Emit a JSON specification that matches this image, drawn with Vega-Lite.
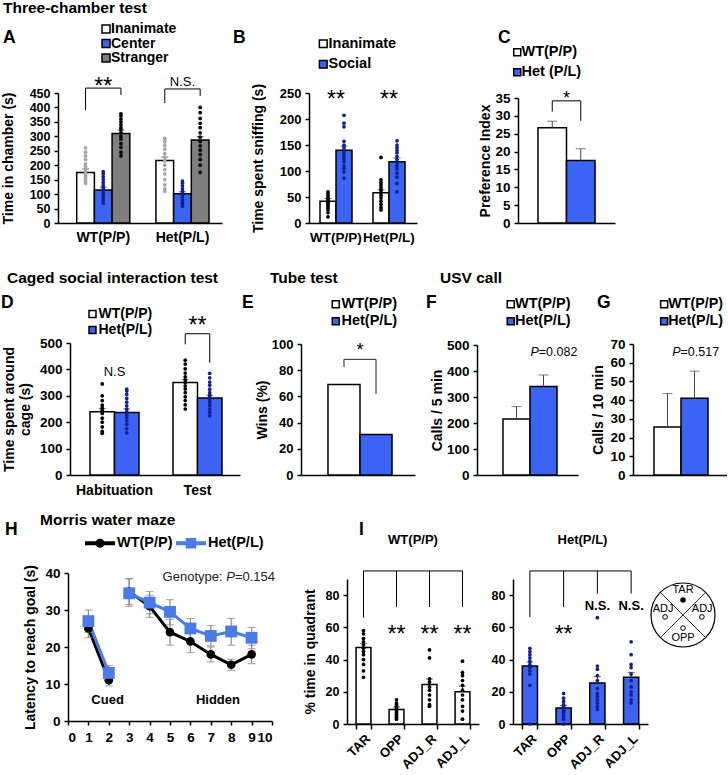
{
"$schema":"https://vega.github.io/schema/vega-lite/v6.json",
"background":"white",
"padding":{"left":1,"top":1,"right":0,"bottom":0},
"spacing":0,
"resolve":{"scale":{"x":"independent","y":"independent","xOffset":"independent","fill":"independent","color":"independent"},"axis":{"x":"independent","y":"independent"},"legend":{"fill":"independent","color":"independent"}},
"datasets":{
"aBar":[{"g":"WT(P/P)","c":"Inanimate","y":175,"hi":187},{"g":"WT(P/P)","c":"Center","y":114,"hi":124},{"g":"WT(P/P)","c":"Stranger","y":310,"hi":322},{"g":"Het(P/L)","c":"Inanimate","y":216,"hi":228},{"g":"Het(P/L)","c":"Center","y":101,"hi":108},{"g":"Het(P/L)","c":"Stranger","y":287,"hi":299}],
"aDot":[
{"g":"WT(P/P)","c":"Inanimate","y":260},{"g":"WT(P/P)","c":"Inanimate","y":245},{"g":"WT(P/P)","c":"Inanimate","y":232},{"g":"WT(P/P)","c":"Inanimate","y":220},{"g":"WT(P/P)","c":"Inanimate","y":205},{"g":"WT(P/P)","c":"Inanimate","y":195},{"g":"WT(P/P)","c":"Inanimate","y":185},{"g":"WT(P/P)","c":"Inanimate","y":178},{"g":"WT(P/P)","c":"Inanimate","y":170},{"g":"WT(P/P)","c":"Inanimate","y":165},{"g":"WT(P/P)","c":"Inanimate","y":158},{"g":"WT(P/P)","c":"Inanimate","y":150},{"g":"WT(P/P)","c":"Inanimate","y":143},{"g":"WT(P/P)","c":"Inanimate","y":137},
{"g":"WT(P/P)","c":"Center","y":178},{"g":"WT(P/P)","c":"Center","y":170},{"g":"WT(P/P)","c":"Center","y":160},{"g":"WT(P/P)","c":"Center","y":150},{"g":"WT(P/P)","c":"Center","y":140},{"g":"WT(P/P)","c":"Center","y":130},{"g":"WT(P/P)","c":"Center","y":122},{"g":"WT(P/P)","c":"Center","y":113},{"g":"WT(P/P)","c":"Center","y":105},{"g":"WT(P/P)","c":"Center","y":97},{"g":"WT(P/P)","c":"Center","y":88},{"g":"WT(P/P)","c":"Center","y":78},{"g":"WT(P/P)","c":"Center","y":68},
{"g":"WT(P/P)","c":"Stranger","y":378},{"g":"WT(P/P)","c":"Stranger","y":370},{"g":"WT(P/P)","c":"Stranger","y":360},{"g":"WT(P/P)","c":"Stranger","y":350},{"g":"WT(P/P)","c":"Stranger","y":340},{"g":"WT(P/P)","c":"Stranger","y":330},{"g":"WT(P/P)","c":"Stranger","y":322},{"g":"WT(P/P)","c":"Stranger","y":312},{"g":"WT(P/P)","c":"Stranger","y":300},{"g":"WT(P/P)","c":"Stranger","y":290},{"g":"WT(P/P)","c":"Stranger","y":275},{"g":"WT(P/P)","c":"Stranger","y":262},{"g":"WT(P/P)","c":"Stranger","y":245},{"g":"WT(P/P)","c":"Stranger","y":232},
{"g":"Het(P/L)","c":"Inanimate","y":293},{"g":"Het(P/L)","c":"Inanimate","y":287},{"g":"Het(P/L)","c":"Inanimate","y":280},{"g":"Het(P/L)","c":"Inanimate","y":268},{"g":"Het(P/L)","c":"Inanimate","y":255},{"g":"Het(P/L)","c":"Inanimate","y":240},{"g":"Het(P/L)","c":"Inanimate","y":228},{"g":"Het(P/L)","c":"Inanimate","y":215},{"g":"Het(P/L)","c":"Inanimate","y":200},{"g":"Het(P/L)","c":"Inanimate","y":185},{"g":"Het(P/L)","c":"Inanimate","y":170},{"g":"Het(P/L)","c":"Inanimate","y":150},{"g":"Het(P/L)","c":"Inanimate","y":132},{"g":"Het(P/L)","c":"Inanimate","y":118},{"g":"Het(P/L)","c":"Inanimate","y":110},
{"g":"Het(P/L)","c":"Center","y":145},{"g":"Het(P/L)","c":"Center","y":138},{"g":"Het(P/L)","c":"Center","y":128},{"g":"Het(P/L)","c":"Center","y":118},{"g":"Het(P/L)","c":"Center","y":110},{"g":"Het(P/L)","c":"Center","y":102},{"g":"Het(P/L)","c":"Center","y":95},{"g":"Het(P/L)","c":"Center","y":88},{"g":"Het(P/L)","c":"Center","y":80},{"g":"Het(P/L)","c":"Center","y":72},{"g":"Het(P/L)","c":"Center","y":65},{"g":"Het(P/L)","c":"Center","y":58},
{"g":"Het(P/L)","c":"Stranger","y":400},{"g":"Het(P/L)","c":"Stranger","y":382},{"g":"Het(P/L)","c":"Stranger","y":362},{"g":"Het(P/L)","c":"Stranger","y":345},{"g":"Het(P/L)","c":"Stranger","y":330},{"g":"Het(P/L)","c":"Stranger","y":312},{"g":"Het(P/L)","c":"Stranger","y":297},{"g":"Het(P/L)","c":"Stranger","y":282},{"g":"Het(P/L)","c":"Stranger","y":267},{"g":"Het(P/L)","c":"Stranger","y":252},{"g":"Het(P/L)","c":"Stranger","y":237},{"g":"Het(P/L)","c":"Stranger","y":220},{"g":"Het(P/L)","c":"Stranger","y":200},{"g":"Het(P/L)","c":"Stranger","y":175}],
"aBr":[{"g":"WT(P/P)","c":"Inanimate","y":391,"o":1},{"g":"WT(P/P)","c":"Inanimate","y":467,"o":2},{"g":"WT(P/P)","c":"Stranger","y":467,"o":3},{"g":"WT(P/P)","c":"Stranger","y":443,"o":4},{"g":"Het(P/L)","c":"Inanimate","y":415,"o":1},{"g":"Het(P/L)","c":"Inanimate","y":464,"o":2},{"g":"Het(P/L)","c":"Stranger","y":464,"o":3},{"g":"Het(P/L)","c":"Stranger","y":440,"o":4}],
"aTxt":[{"g":"WT(P/P)","y":446,"t":"**","k":"s"},{"g":"Het(P/L)","y":474,"t":"N.S.","k":"n"}],
"bBar":[{"g":"WT(P/P)","c":"Inanimate","y":42,"hi":47},{"g":"WT(P/P)","c":"Social","y":140,"hi":148},{"g":"Het(P/L)","c":"Inanimate","y":58,"hi":64},{"g":"Het(P/L)","c":"Social","y":118,"hi":125}],
"bDot":[
{"g":"WT(P/P)","c":"Inanimate","y":60},{"g":"WT(P/P)","c":"Inanimate","y":56},{"g":"WT(P/P)","c":"Inanimate","y":52},{"g":"WT(P/P)","c":"Inanimate","y":48},{"g":"WT(P/P)","c":"Inanimate","y":45},{"g":"WT(P/P)","c":"Inanimate","y":42},{"g":"WT(P/P)","c":"Inanimate","y":40},{"g":"WT(P/P)","c":"Inanimate","y":37},{"g":"WT(P/P)","c":"Inanimate","y":34},{"g":"WT(P/P)","c":"Inanimate","y":30},{"g":"WT(P/P)","c":"Inanimate","y":26},{"g":"WT(P/P)","c":"Inanimate","y":20},{"g":"WT(P/P)","c":"Inanimate","y":12},
{"g":"WT(P/P)","c":"Social","y":207},{"g":"WT(P/P)","c":"Social","y":192},{"g":"WT(P/P)","c":"Social","y":185},{"g":"WT(P/P)","c":"Social","y":157},{"g":"WT(P/P)","c":"Social","y":150},{"g":"WT(P/P)","c":"Social","y":145},{"g":"WT(P/P)","c":"Social","y":140},{"g":"WT(P/P)","c":"Social","y":135},{"g":"WT(P/P)","c":"Social","y":130},{"g":"WT(P/P)","c":"Social","y":124},{"g":"WT(P/P)","c":"Social","y":118},{"g":"WT(P/P)","c":"Social","y":110},{"g":"WT(P/P)","c":"Social","y":105},{"g":"WT(P/P)","c":"Social","y":98},{"g":"WT(P/P)","c":"Social","y":86},
{"g":"Het(P/L)","c":"Inanimate","y":126},{"g":"Het(P/L)","c":"Inanimate","y":83},{"g":"Het(P/L)","c":"Inanimate","y":78},{"g":"Het(P/L)","c":"Inanimate","y":73},{"g":"Het(P/L)","c":"Inanimate","y":68},{"g":"Het(P/L)","c":"Inanimate","y":63},{"g":"Het(P/L)","c":"Inanimate","y":58},{"g":"Het(P/L)","c":"Inanimate","y":53},{"g":"Het(P/L)","c":"Inanimate","y":48},{"g":"Het(P/L)","c":"Inanimate","y":42},{"g":"Het(P/L)","c":"Inanimate","y":36},{"g":"Het(P/L)","c":"Inanimate","y":30},{"g":"Het(P/L)","c":"Inanimate","y":25},
{"g":"Het(P/L)","c":"Social","y":158},{"g":"Het(P/L)","c":"Social","y":150},{"g":"Het(P/L)","c":"Social","y":145},{"g":"Het(P/L)","c":"Social","y":140},{"g":"Het(P/L)","c":"Social","y":135},{"g":"Het(P/L)","c":"Social","y":128},{"g":"Het(P/L)","c":"Social","y":122},{"g":"Het(P/L)","c":"Social","y":116},{"g":"Het(P/L)","c":"Social","y":110},{"g":"Het(P/L)","c":"Social","y":104},{"g":"Het(P/L)","c":"Social","y":96},{"g":"Het(P/L)","c":"Social","y":88},{"g":"Het(P/L)","c":"Social","y":76},{"g":"Het(P/L)","c":"Social","y":60}],
"bTxt":[{"g":"WT(P/P)","y":223,"t":"**"},{"g":"Het(P/L)","y":223,"t":"**"}],
"cBar":[{"p":"c","g":"WT(P/P)","y":26.7,"hi":28.5},{"p":"c","g":"Het (P/L)","y":17.5,"hi":20.8}],
"cBr":[{"p":"c","g":"WT(P/P)","y":31.2,"o":1},{"p":"c","g":"WT(P/P)","y":34.2,"o":2},{"p":"c","g":"Het (P/L)","y":34.2,"o":3},{"p":"c","g":"Het (P/L)","y":28.6,"o":4}],
"cTxt":[{"p":"c","y":33.4,"t":"*"}],
"dBar":[{"g":"Habituation","c":"WT(P/P)","y":240,"hi":252},{"g":"Habituation","c":"Het(P/L)","y":237,"hi":250},{"g":"Test","c":"WT(P/P)","y":350,"hi":362},{"g":"Test","c":"Het(P/L)","y":292,"hi":302}],
"dDot":[
{"g":"Habituation","c":"WT(P/P)","y":345},{"g":"Habituation","c":"WT(P/P)","y":300},{"g":"Habituation","c":"WT(P/P)","y":282},{"g":"Habituation","c":"WT(P/P)","y":265},{"g":"Habituation","c":"WT(P/P)","y":255},{"g":"Habituation","c":"WT(P/P)","y":245},{"g":"Habituation","c":"WT(P/P)","y":233},{"g":"Habituation","c":"WT(P/P)","y":215},{"g":"Habituation","c":"WT(P/P)","y":200},{"g":"Habituation","c":"WT(P/P)","y":182},{"g":"Habituation","c":"WT(P/P)","y":165},{"g":"Habituation","c":"WT(P/P)","y":158},
{"g":"Habituation","c":"Het(P/L)","y":325},{"g":"Habituation","c":"Het(P/L)","y":318},{"g":"Habituation","c":"Het(P/L)","y":305},{"g":"Habituation","c":"Het(P/L)","y":290},{"g":"Habituation","c":"Het(P/L)","y":276},{"g":"Habituation","c":"Het(P/L)","y":262},{"g":"Habituation","c":"Het(P/L)","y":250},{"g":"Habituation","c":"Het(P/L)","y":240},{"g":"Habituation","c":"Het(P/L)","y":230},{"g":"Habituation","c":"Het(P/L)","y":218},{"g":"Habituation","c":"Het(P/L)","y":205},{"g":"Habituation","c":"Het(P/L)","y":192},{"g":"Habituation","c":"Het(P/L)","y":176},{"g":"Habituation","c":"Het(P/L)","y":160},
{"g":"Test","c":"WT(P/P)","y":435},{"g":"Test","c":"WT(P/P)","y":420},{"g":"Test","c":"WT(P/P)","y":402},{"g":"Test","c":"WT(P/P)","y":386},{"g":"Test","c":"WT(P/P)","y":372},{"g":"Test","c":"WT(P/P)","y":360},{"g":"Test","c":"WT(P/P)","y":350},{"g":"Test","c":"WT(P/P)","y":338},{"g":"Test","c":"WT(P/P)","y":326},{"g":"Test","c":"WT(P/P)","y":312},{"g":"Test","c":"WT(P/P)","y":296},{"g":"Test","c":"WT(P/P)","y":282},{"g":"Test","c":"WT(P/P)","y":266},{"g":"Test","c":"WT(P/P)","y":250},
{"g":"Test","c":"Het(P/L)","y":385},{"g":"Test","c":"Het(P/L)","y":368},{"g":"Test","c":"Het(P/L)","y":352},{"g":"Test","c":"Het(P/L)","y":340},{"g":"Test","c":"Het(P/L)","y":325},{"g":"Test","c":"Het(P/L)","y":312},{"g":"Test","c":"Het(P/L)","y":302},{"g":"Test","c":"Het(P/L)","y":294},{"g":"Test","c":"Het(P/L)","y":286},{"g":"Test","c":"Het(P/L)","y":276},{"g":"Test","c":"Het(P/L)","y":263},{"g":"Test","c":"Het(P/L)","y":250},{"g":"Test","c":"Het(P/L)","y":238},{"g":"Test","c":"Het(P/L)","y":225}],
"dBr":[{"g":"Test","c":"WT(P/P)","y":495,"o":1},{"g":"Test","c":"WT(P/P)","y":535,"o":2},{"g":"Test","c":"Het(P/L)","y":535,"o":3},{"g":"Test","c":"Het(P/L)","y":425,"o":4}],
"dTxt":[{"g":"Test","y":538,"t":"**","k":"s"},{"g":"Habituation","y":376,"t":"N.S","k":"n"}],
"eBar":[{"p":"e","g":"WT(P/P)","y":69},{"p":"e","g":"Het(P/L)","y":31}],
"eBr":[{"p":"e","g":"WT(P/P)","y":82.4,"o":1},{"p":"e","g":"WT(P/P)","y":88.3,"o":2},{"p":"e","g":"Het(P/L)","y":88.3,"o":3},{"p":"e","g":"Het(P/L)","y":61.8,"o":4}],
"eTxt":[{"p":"e","y":90.6,"t":"*"}],
"fBar":[{"p":"f","g":"WT(P/P)","y":215,"hi":263},{"p":"f","g":"Het(P/L)","y":340,"hi":385}],
"fTxt":[{"p":"f","g":"Het(P/L)","y":457,"t":"P","k":"a"},{"p":"f","g":"Het(P/L)","y":457,"t":"=0.082","k":"b"}],
"gBar":[{"p":"g","g":"WT(P/P)","y":25.7,"hi":43.5},{"p":"g","g":"Het(P/L)","y":41,"hi":55.5}],
"gTxt":[{"p":"g","g":"Het(P/L)","y":63.6,"t":"P","k":"a"},{"p":"g","g":"Het(P/L)","y":63.6,"t":"=0.517","k":"b"}],
"hD":[
{"geno":"WT(P/P)","ph":"cued","d":1,"y":25,"lo":22.5,"hi":27.5},{"geno":"WT(P/P)","ph":"cued","d":2,"y":11,"lo":9.5,"hi":12.5},
{"geno":"WT(P/P)","ph":"hidden","d":3,"y":35,"lo":31.5,"hi":38.5},{"geno":"WT(P/P)","ph":"hidden","d":4,"y":31,"lo":28,"hi":34},{"geno":"WT(P/P)","ph":"hidden","d":5,"y":24,"lo":20.5,"hi":27.5},{"geno":"WT(P/P)","ph":"hidden","d":6,"y":21.5,"lo":18.5,"hi":24.5},{"geno":"WT(P/P)","ph":"hidden","d":7,"y":18,"lo":16,"hi":20},{"geno":"WT(P/P)","ph":"hidden","d":8,"y":15.2,"lo":13.7,"hi":16.7},{"geno":"WT(P/P)","ph":"hidden","d":9,"y":18,"lo":15.5,"hi":20.5},
{"geno":"Het(P/L)","ph":"cued","d":1,"y":27,"lo":24,"hi":30},{"geno":"Het(P/L)","ph":"cued","d":2,"y":13,"lo":11,"hi":15},
{"geno":"Het(P/L)","ph":"hidden","d":3,"y":34.5,"lo":31,"hi":38.4},{"geno":"Het(P/L)","ph":"hidden","d":4,"y":32,"lo":29,"hi":35},{"geno":"Het(P/L)","ph":"hidden","d":5,"y":29.5,"lo":26,"hi":32.8},{"geno":"Het(P/L)","ph":"hidden","d":6,"y":25,"lo":22,"hi":27.7},{"geno":"Het(P/L)","ph":"hidden","d":7,"y":23,"lo":20.3,"hi":25.8},{"geno":"Het(P/L)","ph":"hidden","d":8,"y":24.2,"lo":20.5,"hi":27.7},{"geno":"Het(P/L)","ph":"hidden","d":9,"y":22.5,"lo":19.5,"hi":25.3}],
"hTxt":[{"d":10,"y":37.9,"t":"=0.154","k":"c"},{"d":10,"y":37.9,"t":"P","k":"b"},{"d":10,"y":37.9,"t":"Genotype:","k":"a"},{"d":1.94,"y":4.7,"t":"Cued","k":"x"},{"d":7.35,"y":4.7,"t":"Hidden","k":"x"}],
"iW":[{"q":"TAR","y":47.5,"hi":50},{"q":"OPP","y":9,"hi":10.5},{"q":"ADJ_R","y":24.5,"hi":28},{"q":"ADJ_L","y":20,"hi":23.5}],
"iWd":[{"q":"TAR","y":58},{"q":"TAR","y":56},{"q":"TAR","y":53},{"q":"TAR","y":51},{"q":"TAR","y":49},{"q":"TAR","y":47},{"q":"TAR","y":45},{"q":"TAR","y":43},{"q":"TAR","y":40},{"q":"TAR","y":37},{"q":"TAR","y":33},{"q":"TAR","y":29},
{"q":"OPP","y":15},{"q":"OPP","y":13},{"q":"OPP","y":12},{"q":"OPP","y":11},{"q":"OPP","y":10},{"q":"OPP","y":9},{"q":"OPP","y":8},{"q":"OPP","y":7},{"q":"OPP","y":6},{"q":"OPP","y":5},{"q":"OPP","y":4},{"q":"OPP","y":3},
{"q":"ADJ_R","y":46},{"q":"ADJ_R","y":41},{"q":"ADJ_R","y":28},{"q":"ADJ_R","y":26},{"q":"ADJ_R","y":23},{"q":"ADJ_R","y":21},{"q":"ADJ_R","y":18},{"q":"ADJ_R","y":15},{"q":"ADJ_R","y":12},{"q":"ADJ_R","y":11},
{"q":"ADJ_L","y":39},{"q":"ADJ_L","y":32},{"q":"ADJ_L","y":30},{"q":"ADJ_L","y":27},{"q":"ADJ_L","y":24},{"q":"ADJ_L","y":21},{"q":"ADJ_L","y":18},{"q":"ADJ_L","y":15},{"q":"ADJ_L","y":11},{"q":"ADJ_L","y":8},{"q":"ADJ_L","y":3}],
"iWl":[{"q":"TAR","y":95},{"q":"ADJ_L","y":95}],
"iWr":[{"q":"TAR","y":95,"y2":66},{"q":"OPP","y":95,"y2":72.6},{"q":"ADJ_R","y":95,"y2":72.6},{"q":"ADJ_L","y":95,"y2":72.6}],
"iWt":[{"q":"OPP","y":51,"t":"**"},{"q":"ADJ_R","y":51,"t":"**"},{"q":"ADJ_L","y":51,"t":"**"}],
"iH":[{"q":"TAR","y":36,"hi":38.5},{"q":"OPP","y":10,"hi":11.5},{"q":"ADJ_R","y":25.5,"hi":29.5},{"q":"ADJ_L","y":29,"hi":32}],
"iHd":[{"q":"TAR","y":47},{"q":"TAR","y":45},{"q":"TAR","y":43},{"q":"TAR","y":41},{"q":"TAR","y":39},{"q":"TAR","y":37},{"q":"TAR","y":35},{"q":"TAR","y":33},{"q":"TAR","y":31},{"q":"TAR","y":24},{"q":"TAR","y":0},
{"q":"OPP","y":19},{"q":"OPP","y":16},{"q":"OPP","y":14},{"q":"OPP","y":12},{"q":"OPP","y":11},{"q":"OPP","y":10},{"q":"OPP","y":9},{"q":"OPP","y":8},{"q":"OPP","y":7},{"q":"OPP","y":5},{"q":"OPP","y":3},{"q":"OPP","y":0},
{"q":"ADJ_R","y":66},{"q":"ADJ_R","y":36},{"q":"ADJ_R","y":34},{"q":"ADJ_R","y":30},{"q":"ADJ_R","y":27},{"q":"ADJ_R","y":22},{"q":"ADJ_R","y":19},{"q":"ADJ_R","y":17},{"q":"ADJ_R","y":15},{"q":"ADJ_R","y":13},{"q":"ADJ_R","y":11},{"q":"ADJ_R","y":9},
{"q":"ADJ_L","y":51},{"q":"ADJ_L","y":43},{"q":"ADJ_L","y":37},{"q":"ADJ_L","y":35},{"q":"ADJ_L","y":31},{"q":"ADJ_L","y":27},{"q":"ADJ_L","y":23},{"q":"ADJ_L","y":20},{"q":"ADJ_L","y":18},{"q":"ADJ_L","y":15},{"q":"ADJ_L","y":13}],
"iHl":[{"q":"TAR","y":95},{"q":"ADJ_L","y":95}],
"iHr":[{"q":"TAR","y":95,"y2":66.4},{"q":"OPP","y":95,"y2":72.6},{"q":"ADJ_R","y":95,"y2":80.9},{"q":"ADJ_L","y":95,"y2":80.9}],
"iHt":[{"q":"OPP","y":51,"t":"**","k":"s"},{"q":"ADJ_R","y":70.7,"t":"N.S.","k":"n"},{"q":"ADJ_L","y":70.7,"t":"N.S.","k":"n"}],
"zC":[{"x":0,"y":0}],
"zL":[{"x":-0.707,"y":0.707,"x2":0.707,"y2":-0.707},{"x":-0.707,"y":-0.707,"x2":0.707,"y2":0.707}],
"zT":[{"x":0,"y":0.78,"t":"TAR"},{"x":-0.62,"y":0.19,"t":"ADJ"},{"x":0.6,"y":0.19,"t":"ADJ"},{"x":0,"y":-0.72,"t":"OPP"}],
"zP":[{"x":0,"y":0.47,"f":1},{"x":-0.56,"y":-0.06,"f":0},{"x":0.59,"y":-0.06,"f":0},{"x":0,"y":-0.41,"f":0}]
},
"vconcat":[
{"hconcat":[
{"width":1,"height":130,"data":{"values":[{}]},"mark":{"type":"rect","opacity":0},"encoding":{},"title":{"text":"Three-chamber test","subtitle":"A","fontSize":15.5,"subtitleFontSize":17.5,"subtitlePadding":12.7,"offset":46.3,"dx":-54}},
{"width":164,"height":130,
 "encoding":{
  "x":{"field":"g","type":"nominal","sort":["WT(P/P)","Het(P/L)"],"scale":{"paddingInner":0.33,"paddingOuter":0.2,"align":0.59},"axis":{"title":null,"labelAngle":0,"ticks":false,"tickSize":0,"labelPadding":7,"labelFontSize":14}},
  "y":{"field":"y","type":"quantitative","scale":{"domain":[0,450],"range":[130,0],"nice":false,"zero":false},"axis":{"title":"Time in chamber (s)","values":[0,50,100,150,200,250,300,350,400,450],"labelFontSize":12.5,"titlePadding":14}}},
 "layer":[
  {"data":{"name":"aBar"},"mark":{"type":"bar","stroke":"black","strokeWidth":1.5},"encoding":{"xOffset":{"field":"c","type":"nominal","sort":["Inanimate","Center","Stranger"],"scale":{"paddingInner":0,"paddingOuter":0}},"fill":{"field":"c","type":"nominal","sort":["Inanimate","Center","Stranger"],"scale":{"domain":["Inanimate","Center","Stranger"],"range":["white","#3B64F4","#7F7F7F"]},"legend":{"title":null,"orient":"none","legendX":41,"legendY":-71,"rowPadding":0.5,"labelFontSize":14,"symbolSize":64,"labelOffset":-2}}}},
  {"data":{"name":"aBar"},"mark":{"type":"rule","color":"#333333","strokeWidth":1},"encoding":{"xOffset":{"field":"c","type":"nominal","sort":["Inanimate","Center","Stranger"]},"y2":{"field":"hi"}}},
  {"data":{"name":"aBar"},"mark":{"type":"tick","orient":"horizontal","color":"#333333","thickness":1,"size":7},"encoding":{"xOffset":{"field":"c","type":"nominal","sort":["Inanimate","Center","Stranger"]},"y":{"field":"hi","type":"quantitative","axis":{"title":"Time in chamber (s)","values":[0,50,100,150,200,250,300,350,400,450],"labelFontSize":12.5,"titlePadding":14}}}},
  {"data":{"name":"aDot"},"mark":{"type":"circle","size":14,"opacity":1},"encoding":{"xOffset":{"field":"c","type":"nominal","sort":["Inanimate","Center","Stranger"]},"color":{"field":"c","type":"nominal","scale":{"domain":["Inanimate","Center","Stranger"],"range":["#A6A6A6","#14208E","#000000"]},"legend":null}}},
  {"data":{"name":"aBr"},"mark":{"type":"line","color":"black","strokeWidth":1},"encoding":{"xOffset":{"field":"c","type":"nominal","sort":["Inanimate","Center","Stranger"]},"detail":{"field":"g"},"order":{"field":"o","type":"quantitative"}}},
  {"data":{"name":"aTxt"},"transform":[{"filter":"datum.k == 's'"}],"mark":{"type":"text","fontSize":23,"baseline":"alphabetic"},"encoding":{"text":{"field":"t"}}},
  {"data":{"name":"aTxt"},"transform":[{"filter":"datum.k == 'n'"}],"mark":{"type":"text","fontSize":13,"baseline":"alphabetic"},"encoding":{"text":{"field":"t"}}}
 ]},
{"width":87,"height":130,"data":{"values":[{}]},"mark":{"type":"rect","opacity":0},"encoding":{},"title":{"text":"B","offset":46.3,"dx":11}},
{"width":108,"height":130,
 "encoding":{
  "x":{"field":"g","type":"nominal","sort":["WT(P/P)","Het(P/L)"],"scale":{"paddingInner":0.396,"paddingOuter":0.217,"align":0.478},"axis":{"title":null,"labelAngle":0,"ticks":false,"tickSize":0,"labelPadding":7,"labelFontSize":13.5}},
  "y":{"field":"y","type":"quantitative","scale":{"domain":[0,250],"range":[130,0],"nice":false,"zero":false},"axis":{"title":"Time spent sniffing (s)","values":[0,50,100,150,200,250],"labelFontSize":13,"titlePadding":14}}},
 "layer":[
  {"data":{"name":"bBar"},"mark":{"type":"bar","stroke":"black","strokeWidth":1.5},"encoding":{"xOffset":{"field":"c","type":"nominal","sort":["Inanimate","Social"],"scale":{"paddingInner":0,"paddingOuter":0}},"fill":{"field":"c","type":"nominal","scale":{"domain":["Inanimate","Social"],"range":["white","#3B64F4"]},"legend":{"title":null,"orient":"none","legendX":7,"legendY":-56.5,"rowPadding":4.5,"labelFontSize":14.5,"symbolSize":60,"labelOffset":-2}}}},
  {"data":{"name":"bBar"},"mark":{"type":"rule","color":"#333333","strokeWidth":1},"encoding":{"xOffset":{"field":"c","type":"nominal","sort":["Inanimate","Social"]},"y2":{"field":"hi"}}},
  {"data":{"name":"bBar"},"mark":{"type":"tick","orient":"horizontal","color":"#333333","thickness":1,"size":7},"encoding":{"xOffset":{"field":"c","type":"nominal","sort":["Inanimate","Social"]},"y":{"field":"hi","type":"quantitative","axis":{"title":"Time spent sniffing (s)","values":[0,50,100,150,200,250],"labelFontSize":13,"titlePadding":14}}}},
  {"data":{"name":"bDot"},"mark":{"type":"circle","size":14,"opacity":1},"encoding":{"xOffset":{"field":"c","type":"nominal","sort":["Inanimate","Social"]},"color":{"field":"c","type":"nominal","scale":{"domain":["Inanimate","Social"],"range":["#000000","#14208E"]},"legend":null}}},
  {"data":{"name":"bTxt"},"mark":{"type":"text","fontSize":23,"baseline":"alphabetic"},"encoding":{"text":{"field":"t"}}}
 ]},
{"width":101,"height":130,"data":{"values":[{}]},"mark":{"type":"rect","opacity":0},"encoding":{},"title":{"text":"C","offset":46.3,"dx":81}},
{"width":97,"height":130,
 "encoding":{
  "x":{"field":"p","type":"nominal","scale":{"paddingInner":0,"paddingOuter":0.35,"align":0.5},"axis":{"title":null,"labels":false,"ticks":false,"tickSize":0}},
  "y":{"field":"y","type":"quantitative","scale":{"domain":[0,35],"range":[130,5],"nice":false,"zero":false},"axis":{"title":"Preference Index","values":[0,5,10,15,20,25,30,35],"labelFontSize":13.5,"titlePadding":2}}},
 "layer":[
  {"data":{"name":"cBar"},"mark":{"type":"bar","stroke":"black","strokeWidth":1.5},"encoding":{"xOffset":{"field":"g","type":"nominal","sort":["WT(P/P)","Het (P/L)"],"scale":{"paddingInner":0,"paddingOuter":0}},"fill":{"field":"g","type":"nominal","scale":{"domain":["WT(P/P)","Het (P/L)"],"range":["white","#3B64F4"]},"legend":{"title":null,"orient":"none","legendX":-8,"legendY":-48,"rowPadding":5,"labelFontSize":14.5,"symbolSize":49,"labelOffset":-3}}}},
  {"data":{"name":"cBar"},"mark":{"type":"rule","color":"#444444","strokeWidth":1},"encoding":{"xOffset":{"field":"g","type":"nominal","sort":["WT(P/P)","Het (P/L)"]},"y2":{"field":"hi"}}},
  {"data":{"name":"cBar"},"mark":{"type":"tick","orient":"horizontal","color":"#444444","thickness":1,"size":10},"encoding":{"xOffset":{"field":"g","type":"nominal","sort":["WT(P/P)","Het (P/L)"]},"y":{"field":"hi","type":"quantitative","axis":{"title":"Preference Index","values":[0,5,10,15,20,25,30,35],"labelFontSize":13.5,"titlePadding":2}}}},
  {"data":{"name":"cBr"},"mark":{"type":"line","color":"black","strokeWidth":1},"encoding":{"xOffset":{"field":"g","type":"nominal","sort":["WT(P/P)","Het (P/L)"]},"order":{"field":"o","type":"quantitative"}}},
  {"data":{"name":"cTxt"},"mark":{"type":"text","fontSize":18,"baseline":"alphabetic"},"encoding":{"text":{"field":"t"}}}
 ]}
],"spacing":0,"bounds":"flush","resolve":{"scale":{"x":"independent","y":"independent","xOffset":"independent","fill":"independent","color":"independent"},"axis":{"x":"independent","y":"independent"},"legend":{"fill":"independent","color":"independent"}}},

{"width":1,"height":26.3,"data":{"values":[{}]},"mark":{"type":"rect","opacity":0},"encoding":{}},

{"hconcat":[
{"width":1,"height":154,"data":{"values":[{}]},"mark":{"type":"rect","opacity":0},"encoding":{},"title":{"text":"D","offset":9.3,"dx":-56}},
{"width":12,"height":154,"data":{"values":[{}]},"mark":{"type":"rect","opacity":0},"encoding":{},"title":{"text":"Caged social interaction test","fontSize":15.5,"offset":34.2,"dx":-51}},
{"width":170,"height":154,
 "encoding":{
  "x":{"field":"g","type":"nominal","sort":["Habituation","Test"],"scale":{"paddingInner":0.41,"paddingOuter":0.229,"align":0.526},"axis":{"title":null,"labelAngle":0,"ticks":false,"tickSize":0,"labelPadding":8,"labelFontSize":14}},
  "y":{"field":"y","type":"quantitative","scale":{"domain":[0,500],"range":[154,22],"nice":false,"zero":false},"axis":{"title":["Time spent around","cage (s)"],"titleLineHeight":16,"values":[0,100,200,300,400,500],"labelFontSize":13.5,"titlePadding":6.5}}},
 "layer":[
  {"data":{"name":"dBar"},"mark":{"type":"bar","stroke":"black","strokeWidth":1.5},"encoding":{"xOffset":{"field":"c","type":"nominal","sort":["WT(P/P)","Het(P/L)"],"scale":{"paddingInner":0,"paddingOuter":0}},"fill":{"field":"c","type":"nominal","scale":{"domain":["WT(P/P)","Het(P/L)"],"range":["white","#3B64F4"]},"legend":{"title":null,"orient":"none","legendX":15.5,"legendY":-14,"rowPadding":2,"labelFontSize":14,"symbolSize":49,"labelOffset":-1}}}},
  {"data":{"name":"dBar"},"mark":{"type":"rule","color":"#333333","strokeWidth":1},"encoding":{"xOffset":{"field":"c","type":"nominal","sort":["WT(P/P)","Het(P/L)"]},"y2":{"field":"hi"}}},
  {"data":{"name":"dBar"},"mark":{"type":"tick","orient":"horizontal","color":"#333333","thickness":1,"size":7},"encoding":{"xOffset":{"field":"c","type":"nominal","sort":["WT(P/P)","Het(P/L)"]},"y":{"field":"hi","type":"quantitative","axis":{"title":["Time spent around","cage (s)"],"titleLineHeight":16,"values":[0,100,200,300,400,500],"labelFontSize":13.5,"titlePadding":6.5}}}},
  {"data":{"name":"dDot"},"mark":{"type":"circle","size":14,"opacity":1},"encoding":{"xOffset":{"field":"c","type":"nominal","sort":["WT(P/P)","Het(P/L)"]},"color":{"field":"c","type":"nominal","scale":{"domain":["WT(P/P)","Het(P/L)"],"range":["#000000","#14208E"]},"legend":null}}},
  {"data":{"name":"dBr"},"mark":{"type":"line","color":"black","strokeWidth":1},"encoding":{"xOffset":{"field":"c","type":"nominal","sort":["WT(P/P)","Het(P/L)"]},"order":{"field":"o","type":"quantitative"}}},
  {"data":{"name":"dTxt"},"transform":[{"filter":"datum.k == 's'"}],"mark":{"type":"text","fontSize":23,"baseline":"alphabetic"},"encoding":{"text":{"field":"t"}}},
  {"data":{"name":"dTxt"},"transform":[{"filter":"datum.k == 'n'"}],"mark":{"type":"text","fontSize":13,"baseline":"alphabetic"},"encoding":{"text":{"field":"t"}}}
 ]},
{"width":1,"height":154,"data":{"values":[{}]},"mark":{"type":"rect","opacity":0},"encoding":{},"title":{"text":"E","offset":9.3,"dx":2}},
{"width":60,"height":154,"data":{"values":[{}]},"mark":{"type":"rect","opacity":0},"encoding":{},"title":{"text":"Tube test","fontSize":15.5,"offset":34.2,"dx":29}},
{"width":114,"height":154,
 "encoding":{
  "x":{"field":"p","type":"nominal","scale":{"paddingInner":0,"paddingOuter":0.39,"align":0.54},"axis":{"title":null,"labels":false,"ticks":false,"tickSize":0}},
  "y":{"field":"y","type":"quantitative","scale":{"domain":[0,100],"range":[154,23],"nice":false,"zero":false},"axis":{"title":"Wins (%)","values":[0,20,40,60,80,100],"labelFontSize":13,"titlePadding":2}}},
 "layer":[
  {"data":{"name":"eBar"},"mark":{"type":"bar","stroke":"black","strokeWidth":1.5},"encoding":{"xOffset":{"field":"g","type":"nominal","sort":["WT(P/P)","Het(P/L)"],"scale":{"paddingInner":0,"paddingOuter":0}},"fill":{"field":"g","type":"nominal","scale":{"domain":["WT(P/P)","Het(P/L)"],"range":["white","#3B64F4"]},"legend":{"title":null,"orient":"none","legendX":27.5,"legendY":-24,"rowPadding":2,"labelFontSize":14.5,"symbolSize":49,"labelOffset":-1.5}}}},
  {"data":{"name":"eBr"},"mark":{"type":"line","color":"#222222","strokeWidth":1},"encoding":{"xOffset":{"field":"g","type":"nominal","sort":["WT(P/P)","Het(P/L)"]},"order":{"field":"o","type":"quantitative"}}},
  {"data":{"name":"eTxt"},"mark":{"type":"text","fontSize":18,"baseline":"alphabetic"},"encoding":{"text":{"field":"t"}}}
 ]},
{"width":1,"height":154,"data":{"values":[{}]},"mark":{"type":"rect","opacity":0},"encoding":{},"title":{"text":"F","offset":9.3,"dx":11}},
{"width":61,"height":154,"data":{"values":[{}]},"mark":{"type":"rect","opacity":0},"encoding":{},"title":{"text":"USV call","fontSize":15.5,"offset":34.2,"dx":24}},
{"width":101,"height":154,
 "encoding":{
  "x":{"field":"p","type":"nominal","scale":{"paddingInner":0,"paddingOuter":0.435,"align":0.553},"axis":{"title":null,"labels":false,"ticks":false,"tickSize":0}},
  "y":{"field":"y","type":"quantitative","scale":{"domain":[0,500],"range":[154,24],"nice":false,"zero":false},"axis":{"title":"Calls / 5 min","values":[0,100,200,300,400,500],"labelFontSize":13.5,"titlePadding":2}}},
 "layer":[
  {"data":{"name":"fBar"},"mark":{"type":"bar","stroke":"black","strokeWidth":1.5},"encoding":{"xOffset":{"field":"g","type":"nominal","sort":["WT(P/P)","Het(P/L)"],"scale":{"paddingInner":0,"paddingOuter":0}},"fill":{"field":"g","type":"nominal","scale":{"domain":["WT(P/P)","Het(P/L)"],"range":["white","#3B64F4"]},"legend":{"title":null,"orient":"none","legendX":26.5,"legendY":-24,"rowPadding":2,"labelFontSize":14.5,"symbolSize":49,"labelOffset":-3}}}},
  {"data":{"name":"fBar"},"mark":{"type":"rule","color":"#444444","strokeWidth":1},"encoding":{"xOffset":{"field":"g","type":"nominal","sort":["WT(P/P)","Het(P/L)"]},"y2":{"field":"hi"}}},
  {"data":{"name":"fBar"},"mark":{"type":"tick","orient":"horizontal","color":"#444444","thickness":1,"size":10},"encoding":{"xOffset":{"field":"g","type":"nominal","sort":["WT(P/P)","Het(P/L)"]},"y":{"field":"hi","type":"quantitative","axis":{"title":"Calls / 5 min","values":[0,100,200,300,400,500],"labelFontSize":13.5,"titlePadding":2}}}},
  {"data":{"name":"fTxt"},"transform":[{"filter":"datum.k == 'a'"}],"mark":{"type":"text","fontSize":12.5,"fontStyle":"italic","align":"right","dx":-4.7,"baseline":"alphabetic"},"encoding":{"xOffset":{"field":"g","type":"nominal","sort":["WT(P/P)","Het(P/L)"]},"text":{"field":"t"}}},
  {"data":{"name":"fTxt"},"transform":[{"filter":"datum.k == 'b'"}],"mark":{"type":"text","fontSize":12.5,"align":"left","dx":-4.7,"baseline":"alphabetic"},"encoding":{"xOffset":{"field":"g","type":"nominal","sort":["WT(P/P)","Het(P/L)"]},"text":{"field":"t"}}}
 ]},
{"width":55,"height":154,"data":{"values":[{}]},"mark":{"type":"rect","opacity":0},"encoding":{},"title":{"text":"G","offset":9.3,"dx":19}},
{"width":94,"height":154,
 "encoding":{
  "x":{"field":"p","type":"nominal","scale":{"paddingInner":0,"paddingOuter":0.37,"align":0.525},"axis":{"title":null,"labels":false,"ticks":false,"tickSize":0}},
  "y":{"field":"y","type":"quantitative","scale":{"domain":[0,70],"range":[154,23],"nice":false,"zero":false},"axis":{"title":"Calls / 10 min","values":[0,10,20,30,40,50,60,70],"labelFontSize":13.5,"titlePadding":4}}},
 "layer":[
  {"data":{"name":"gBar"},"mark":{"type":"bar","stroke":"black","strokeWidth":1.5},"encoding":{"xOffset":{"field":"g","type":"nominal","sort":["WT(P/P)","Het(P/L)"],"scale":{"paddingInner":0,"paddingOuter":0}},"fill":{"field":"g","type":"nominal","scale":{"domain":["WT(P/P)","Het(P/L)"],"range":["white","#3B64F4"]},"legend":{"title":null,"orient":"none","legendX":24,"legendY":-24,"rowPadding":2,"labelFontSize":14.3,"symbolSize":49,"labelOffset":-3}}}},
  {"data":{"name":"gBar"},"mark":{"type":"rule","color":"#444444","strokeWidth":1},"encoding":{"xOffset":{"field":"g","type":"nominal","sort":["WT(P/P)","Het(P/L)"]},"y2":{"field":"hi"}}},
  {"data":{"name":"gBar"},"mark":{"type":"tick","orient":"horizontal","color":"#444444","thickness":1,"size":10},"encoding":{"xOffset":{"field":"g","type":"nominal","sort":["WT(P/P)","Het(P/L)"]},"y":{"field":"hi","type":"quantitative","axis":{"title":"Calls / 10 min","values":[0,10,20,30,40,50,60,70],"labelFontSize":13.5,"titlePadding":4}}}},
  {"data":{"name":"gTxt"},"transform":[{"filter":"datum.k == 'a'"}],"mark":{"type":"text","fontSize":12.5,"fontStyle":"italic","align":"right","dx":-14,"baseline":"alphabetic"},"encoding":{"xOffset":{"field":"g","type":"nominal","sort":["WT(P/P)","Het(P/L)"]},"text":{"field":"t"}}},
  {"data":{"name":"gTxt"},"transform":[{"filter":"datum.k == 'b'"}],"mark":{"type":"text","fontSize":12.5,"align":"left","dx":-14,"baseline":"alphabetic"},"encoding":{"xOffset":{"field":"g","type":"nominal","sort":["WT(P/P)","Het(P/L)"]},"text":{"field":"t"}}}
 ]}
],"spacing":0,"bounds":"flush","resolve":{"scale":{"x":"independent","y":"independent","xOffset":"independent","fill":"independent","color":"independent"},"axis":{"x":"independent","y":"independent"},"legend":{"fill":"independent","color":"independent"}}},

{"width":1,"height":14.8,"data":{"values":[{}]},"mark":{"type":"rect","opacity":0},"encoding":{}},

{"hconcat":[
{"width":1,"height":151,"data":{"values":[{}]},"mark":{"type":"rect","opacity":0},"encoding":{},"title":{"text":"H","offset":34.3,"dx":-52}},
{"width":10,"height":151,"data":{"values":[{}]},"mark":{"type":"rect","opacity":0},"encoding":{},"title":{"text":"Morris water maze","fontSize":15.5,"offset":44.7,"dx":-18}},
{"width":204,"height":151,
 "encoding":{
  "x":{"field":"d","type":"quantitative","scale":{"domain":[0,10],"nice":false,"zero":false},"axis":{"title":null,"values":[0,1,2,3,4,5,6,7,8,9,10],"labelFontSize":13.5,"offset":-3,"labelPadding":5}},
  "y":{"field":"y","type":"quantitative","scale":{"domain":[0,40],"range":[148,0],"nice":false,"zero":false},"axis":{"title":"Latency to reach goal (s)","values":[0,10,20,30,40],"labelFontSize":13.5,"titlePadding":7}}},
 "layer":[
  {"data":{"name":"hD"},"mark":{"type":"line","strokeWidth":3},"encoding":{"color":{"field":"geno","type":"nominal","scale":{"domain":["WT(P/P)","Het(P/L)"],"range":["#000000","#4A7BE8"]},"legend":{"title":null,"orient":"none","legendX":17,"legendY":-45,"direction":"horizontal","symbolSize":900,"labelFontSize":14.5,"labelOffset":2,"columnPadding":3,"encode":{"symbols":{"update":{"shape":{"signal":"datum.value === 'WT(P/P)' ? 'M-1,-0.13L1,-0.13L1,0.13L-1,0.13Z M-0.3,0A0.3,0.3 0 1,1 0.3,0A0.3,0.3 0 1,1 -0.3,0Z' : 'M-1,-0.13L1,-0.13L1,0.13L-1,0.13Z M-0.35,-0.35L0.35,-0.35L0.35,0.35L-0.35,0.35Z'"},"fill":{"signal":"datum.value === 'WT(P/P)' ? '#000000' : '#4A7BE8'"},"stroke":{"value":"transparent"},"strokeWidth":{"value":0},"opacity":{"value":1}}}}}},"detail":{"field":"ph"}}},
  {"data":{"name":"hD"},"mark":{"type":"rule","color":"#8C8C8C","strokeWidth":1.2},"encoding":{"y":{"field":"lo","type":"quantitative","axis":{"title":"Latency to reach goal (s)","values":[0,10,20,30,40],"labelFontSize":13.5,"titlePadding":7}},"y2":{"field":"hi"}}},
  {"data":{"name":"hD"},"mark":{"type":"tick","orient":"horizontal","color":"#8C8C8C","thickness":1.2,"size":8},"encoding":{"y":{"field":"lo","type":"quantitative","axis":{"title":"Latency to reach goal (s)","values":[0,10,20,30,40],"labelFontSize":13.5,"titlePadding":7}}}},
  {"data":{"name":"hD"},"mark":{"type":"tick","orient":"horizontal","color":"#8C8C8C","thickness":1.2,"size":8},"encoding":{"y":{"field":"hi","type":"quantitative","axis":{"title":"Latency to reach goal (s)","values":[0,10,20,30,40],"labelFontSize":13.5,"titlePadding":7}}}},
  {"data":{"name":"hD"},"transform":[{"filter":"datum.geno == 'WT(P/P)'"}],"mark":{"type":"point","shape":"circle","filled":true,"size":75,"color":"#000000","opacity":1}},
  {"data":{"name":"hD"},"transform":[{"filter":"datum.geno == 'Het(P/L)'"}],"mark":{"type":"point","shape":"square","filled":true,"size":140,"color":"#4A7BE8","opacity":1}},
  {"data":{"name":"hTxt"},"transform":[{"filter":"datum.k == 'c'"}],"mark":{"type":"text","fontSize":13,"align":"right","dx":3,"baseline":"alphabetic","color":"#222222"},"encoding":{"text":{"field":"t"}}},
  {"data":{"name":"hTxt"},"transform":[{"filter":"datum.k == 'b'"}],"mark":{"type":"text","fontSize":13,"fontStyle":"italic","align":"right","dx":-37.1,"baseline":"alphabetic","color":"#222222"},"encoding":{"text":{"field":"t"}}},
  {"data":{"name":"hTxt"},"transform":[{"filter":"datum.k == 'a'"}],"mark":{"type":"text","fontSize":13,"align":"right","dx":-49.4,"baseline":"alphabetic","color":"#222222"},"encoding":{"text":{"field":"t"}}},
  {"data":{"name":"hTxt"},"transform":[{"filter":"datum.k == 'x'"}],"mark":{"type":"text","fontSize":13,"fontWeight":"bold","baseline":"alphabetic"},"encoding":{"text":{"field":"t"}}}
 ]},
{"width":75,"height":151,"data":{"values":[{}]},"mark":{"type":"rect","opacity":0},"encoding":{},"title":{"text":"I","offset":34.3,"dx":87}},
{"width":132,"height":151,
 "encoding":{
  "x":{"field":"q","type":"nominal","sort":["TAR","OPP","ADJ_R","ADJ_L"],"scale":{"paddingInner":0.55,"paddingOuter":0.275},"axis":{"title":null,"labelAngle":-45,"labelFontSize":13,"tickBand":"extent","tickSize":5,"labelPadding":3}},
  "y":{"field":"y","type":"quantitative","scale":{"domain":[0,90],"range":[151,6],"nice":false,"zero":false},"axis":{"title":"% time in quadrant","values":[0,20,40,60,80],"labelFontSize":12.5,"titlePadding":8}}},
 "layer":[
  {"data":{"name":"iW"},"mark":{"type":"bar","fill":"white","stroke":"black","strokeWidth":1.5}},
  {"data":{"name":"iW"},"mark":{"type":"rule","color":"#333333","strokeWidth":1},"encoding":{"y2":{"field":"hi"}}},
  {"data":{"name":"iW"},"mark":{"type":"tick","orient":"horizontal","color":"#333333","thickness":1,"size":7},"encoding":{"y":{"field":"hi","type":"quantitative","axis":{"title":"% time in quadrant","values":[0,20,40,60,80],"labelFontSize":12.5,"titlePadding":8}}}},
  {"data":{"name":"iWd"},"mark":{"type":"circle","size":14,"opacity":1,"color":"#000000"}},
  {"data":{"name":"iWl"},"mark":{"type":"line","color":"black","strokeWidth":1},"encoding":{}},
  {"data":{"name":"iWr"},"mark":{"type":"rule","color":"black","strokeWidth":1},"encoding":{"y2":{"field":"y2"}}},
  {"data":{"name":"iWt"},"mark":{"type":"text","fontSize":23,"baseline":"alphabetic"},"encoding":{"text":{"field":"t"}}}
 ]},
{"width":34,"height":151,"data":{"values":[{}]},"mark":{"type":"rect","opacity":0},"encoding":{},"title":{"text":"WT(P/P)","fontSize":13,"align":"center","offset":26.3,"dx":-66}},
{"width":135,"height":151,
 "encoding":{
  "x":{"field":"q","type":"nominal","sort":["TAR","OPP","ADJ_R","ADJ_L"],"scale":{"paddingInner":0.55,"paddingOuter":0.275},"axis":{"title":null,"labelAngle":-45,"labelFontSize":13,"tickBand":"extent","tickSize":5,"labelPadding":3}},
  "y":{"field":"y","type":"quantitative","scale":{"domain":[0,90],"range":[151,6],"nice":false,"zero":false},"axis":{"title":null,"values":[0,20,40,60,80],"labelFontSize":12.5}}},
 "layer":[
  {"data":{"name":"iH"},"mark":{"type":"bar","fill":"#3B64F4","stroke":"black","strokeWidth":1.5}},
  {"data":{"name":"iH"},"mark":{"type":"rule","color":"#333333","strokeWidth":1},"encoding":{"y2":{"field":"hi"}}},
  {"data":{"name":"iH"},"mark":{"type":"tick","orient":"horizontal","color":"#333333","thickness":1,"size":7},"encoding":{"y":{"field":"hi","type":"quantitative","axis":{"title":null,"values":[0,20,40,60,80],"labelFontSize":12.5}}}},
  {"data":{"name":"iHd"},"mark":{"type":"circle","size":14,"opacity":1,"color":"#14208E"}},
  {"data":{"name":"iHl"},"mark":{"type":"line","color":"black","strokeWidth":1},"encoding":{}},
  {"data":{"name":"iHr"},"mark":{"type":"rule","color":"black","strokeWidth":1},"encoding":{"y2":{"field":"y2"}}},
  {"data":{"name":"iHt"},"transform":[{"filter":"datum.k == 's'"}],"mark":{"type":"text","fontSize":23,"baseline":"alphabetic"},"encoding":{"text":{"field":"t"}}},
  {"data":{"name":"iHt"},"transform":[{"filter":"datum.k == 'n'"}],"mark":{"type":"text","fontSize":13,"fontWeight":"bold","baseline":"alphabetic"},"encoding":{"text":{"field":"t"}}}
 ]},
{"width":3,"height":151,"data":{"values":[{}]},"mark":{"type":"rect","opacity":0},"encoding":{},"title":{"text":"Het(P/L)","fontSize":13,"align":"center","offset":26.3,"dx":-65.5}},
{"width":64,"height":151,
 "encoding":{
  "x":{"field":"x","type":"quantitative","scale":{"domain":[-1,1],"nice":false,"zero":false},"axis":null},
  "y":{"field":"y","type":"quantitative","scale":{"domain":[-1,1],"range":[74,10],"nice":false,"zero":false},"axis":null}},
 "layer":[
  {"data":{"name":"zC"},"mark":{"type":"point","shape":"circle","size":4096,"filled":false,"color":"black","strokeWidth":1.2,"opacity":1}},
  {"data":{"name":"zL"},"mark":{"type":"rule","color":"black","strokeWidth":0.8},"encoding":{"x2":{"field":"x2"},"y2":{"field":"y2"}}},
  {"data":{"name":"zT"},"mark":{"type":"text","fontSize":11},"encoding":{"text":{"field":"t"}}},
  {"data":{"name":"zP"},"transform":[{"filter":"datum.f == 1"}],"mark":{"type":"point","shape":"circle","filled":true,"size":30,"color":"black","opacity":1}},
  {"data":{"name":"zP"},"transform":[{"filter":"datum.f == 0"}],"mark":{"type":"point","shape":"circle","filled":false,"size":22,"color":"black","strokeWidth":1,"opacity":1}}
 ]}
],"spacing":0,"bounds":"flush","resolve":{"scale":{"x":"independent","y":"independent","xOffset":"independent","fill":"independent","color":"independent"},"axis":{"x":"independent","y":"independent"},"legend":{"fill":"independent","color":"independent"}}}
],
"config":{
 "font":"Liberation Sans",
 "view":{"stroke":null},
 "axis":{"grid":false,"domainColor":"black","domainWidth":1.5,"tickColor":"black","tickWidth":1.5,"tickSize":4,"labelColor":"black","labelFontWeight":"bold","labelFontSize":13,"labelPadding":4,"titleColor":"black","titleFontWeight":"bold","titleFontSize":14},
 "legend":{"padding":0,"labelFontSize":14.5,"labelFontWeight":"bold","labelColor":"black","labelOffset":2,"symbolType":"square","symbolSize":90,"symbolStrokeColor":"black","symbolStrokeWidth":1.5,"rowPadding":2.5},
 "title":{"anchor":"start","frame":"group","color":"black","fontSize":17.5,"fontWeight":"bold","subtitleColor":"black","subtitleFontSize":17.5,"subtitleFontWeight":"bold","subtitleFont":"Liberation Sans"}
}
}
